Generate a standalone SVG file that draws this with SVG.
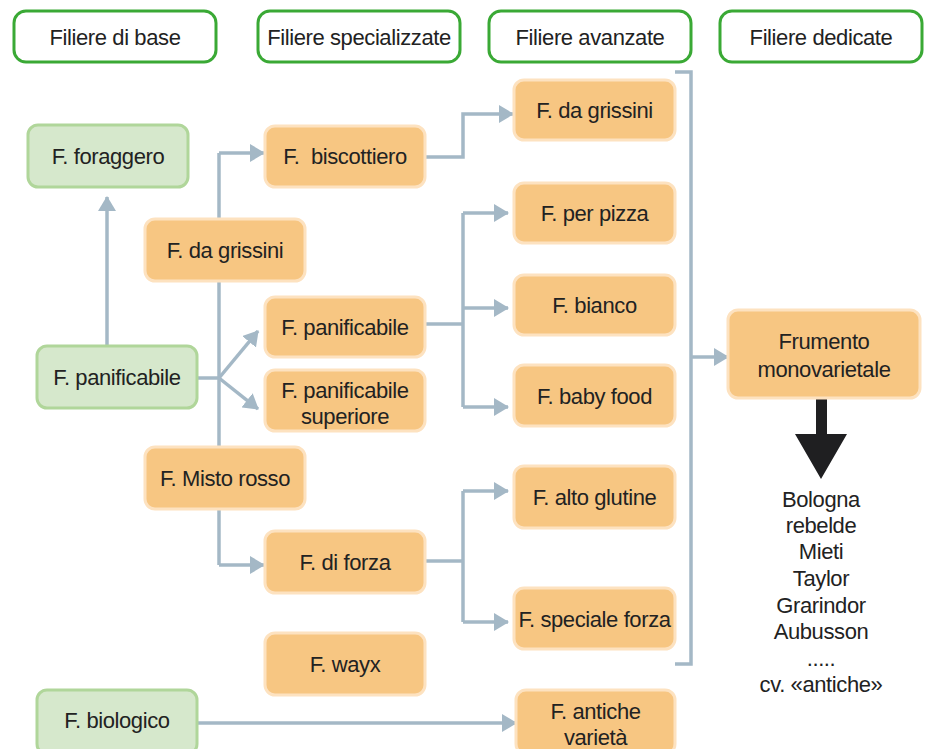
<svg xmlns="http://www.w3.org/2000/svg" width="928" height="749" viewBox="0 0 928 749">
<style>
text{font-family:"Liberation Sans",Arial,sans-serif;font-size:22px;letter-spacing:-0.4px;fill:#222;text-anchor:middle;white-space:pre}
.hdr rect{fill:#fff;stroke:#3aa935;stroke-width:3}
.grn rect{fill:#d6e8cc;stroke:#b0d69a;stroke-width:3}
.org rect{fill:#f7c682;stroke:#fde2c0;stroke-width:3}
#connectors path{fill:none;stroke:#a4b8c6;stroke-width:3.5}
#connectors .arr{marker-end:url(#ah)}
</style>
<defs>
<marker id="ah" markerUnits="userSpaceOnUse" markerWidth="16" markerHeight="18" refX="14" refY="9" orient="auto">
<path d="M0,0 L15,9 L0,18 z" fill="#a4b8c6"/>
</marker>
</defs>
<rect width="928" height="749" fill="#fff"/>
<g id="connectors">
<path d="M107,346 V197" class="arr"/>
<path d="M219,153 V565"/>
<path d="M219,153 H264" class="arr"/>
<path d="M219,565 H264" class="arr"/>
<path d="M197,378 H219"/>
<path d="M219,378 L258,331" class="arr"/>
<path d="M219,378 L258,409" class="arr"/>
<path d="M425,157 H463 V114 H513" class="arr"/>
<path d="M425,324 H463"/>
<path d="M463,213 V407"/>
<path d="M463,213 H508" class="arr"/>
<path d="M463,308 H508" class="arr"/>
<path d="M463,407 H508" class="arr"/>
<path d="M425,561 H463"/>
<path d="M463,491 V622"/>
<path d="M463,491 H508" class="arr"/>
<path d="M463,622 H508" class="arr"/>
<path d="M675,72 H691 V664 H675"/>
<path d="M691,357 H728" class="arr"/>
<path d="M197,723 H516" class="arr"/>
<polygon points="816,398 827,398 827,434 847,434 821,479 795,434 816,434" fill="#1f1f21"/>
</g>
<g id="h1" class="hdr"><rect x="14" y="11" width="202" height="51" rx="12"/><text x="115" y="45">Filiere di base</text></g>
<g id="h2" class="hdr"><rect x="258" y="11" width="202" height="51" rx="12"/><text x="359" y="45">Filiere specializzate</text></g>
<g id="h3" class="hdr"><rect x="489" y="11" width="202" height="51" rx="12"/><text x="590" y="45">Filiere avanzate</text></g>
<g id="h4" class="hdr"><rect x="720" y="11" width="202" height="51" rx="12"/><text x="821" y="45">Filiere dedicate</text></g>

<g id="foraggero" class="grn"><rect x="28" y="125" width="160" height="62" rx="10"/><text x="108" y="164">F. foraggero</text></g>
<g id="panificabile_base" class="grn"><rect x="37" y="346" width="160" height="62" rx="10"/><text x="117" y="385">F. panificabile</text></g>
<g id="biologico" class="grn"><rect x="37" y="690" width="160" height="64" rx="10"/><text x="117" y="728">F. biologico</text></g>

<g id="grissini1" class="org"><rect x="145" y="219" width="160" height="62" rx="10"/><text x="225" y="258">F. da grissini</text></g>
<g id="misto" class="org"><rect x="145" y="447" width="160" height="62" rx="10"/><text x="225" y="486">F. Misto rosso</text></g>

<g id="biscottiero" class="org"><rect x="265" y="126" width="160" height="61" rx="10"/><text x="345" y="164">F.  biscottiero</text></g>
<g id="panificabile" class="org"><rect x="265" y="297" width="160" height="60" rx="10"/><text x="345" y="335">F. panificabile</text></g>
<g id="panificabile_sup" class="org"><rect x="265" y="370" width="160" height="61" rx="10"/><text x="345" y="398">F. panificabile</text><text x="345" y="424">superiore</text></g>
<g id="forza" class="org"><rect x="265" y="531" width="160" height="62" rx="10"/><text x="345" y="570">F. di forza</text></g>
<g id="wayx" class="org"><rect x="265" y="633" width="160" height="62" rx="10"/><text x="345" y="672">F. wayx</text></g>

<g id="grissini2" class="org"><rect x="514" y="80" width="161" height="60" rx="10"/><text x="594.5" y="118">F. da grissini</text></g>
<g id="pizza" class="org"><rect x="514" y="183" width="161" height="60" rx="10"/><text x="594.5" y="221">F. per pizza</text></g>
<g id="bianco" class="org"><rect x="514" y="275" width="161" height="60" rx="10"/><text x="594.5" y="313">F. bianco</text></g>
<g id="babyfood" class="org"><rect x="514" y="365" width="161" height="61" rx="10"/><text x="594.5" y="404">F. baby food</text></g>
<g id="altoglutine" class="org"><rect x="514" y="466" width="161" height="62" rx="10"/><text x="594.5" y="505">F. alto glutine</text></g>
<g id="specialeforza" class="org"><rect x="514" y="588" width="161" height="61" rx="10"/><text x="594.5" y="627">F. speciale forza</text></g>
<g id="antiche" class="org"><rect x="516" y="690" width="159" height="64" rx="10"/><text x="595.5" y="719">F. antiche</text><text x="595.5" y="745">varietà</text></g>

<g id="frumento" class="org"><rect x="728" y="310" width="192" height="88" rx="10"/><text x="824" y="349">Frumento</text><text x="824" y="377">monovarietale</text></g>

<g id="cultivar">
<text x="821" y="507">Bologna</text>
<text x="821" y="533">rebelde</text>
<text x="821" y="559">Mieti</text>
<text x="821" y="586">Taylor</text>
<text x="821" y="613">Grarindor</text>
<text x="821" y="639">Aubusson</text>
<text x="821" y="666">.....</text>
<text x="821" y="692">cv. «antiche»</text>
</g>
</svg>
